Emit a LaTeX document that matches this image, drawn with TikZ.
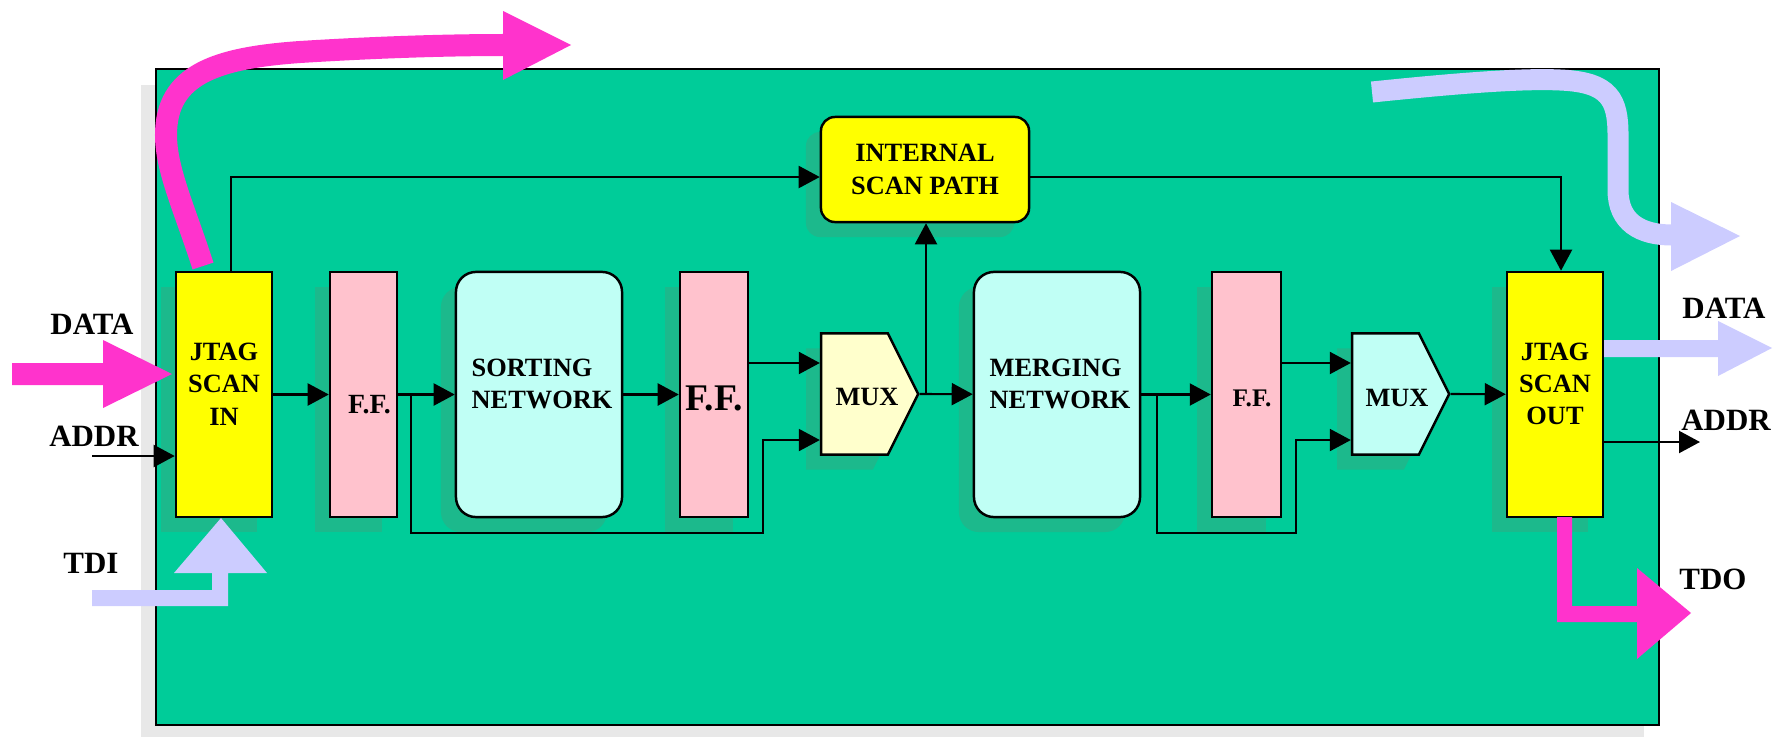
\documentclass[tikz,border=0pt]{standalone}
\usepackage{fontspec}
\setmainfont{Liberation Serif}
\usepackage{xcolor}
\usepackage{tikz}
\definecolor{chipgreen}{RGB}{0,204,153}
\definecolor{shadowgreen}{RGB}{28,185,140}
\definecolor{scanyellow}{RGB}{255,255,0}
\definecolor{ffpink}{RGB}{255,194,205}
\definecolor{netcyan}{RGB}{192,255,245}
\definecolor{muxcream}{RGB}{255,255,204}
\definecolor{tdomagenta}{RGB}{255,51,204}
\definecolor{tdilavender}{RGB}{204,204,255}
\usetikzlibrary{shapes.symbols,arrows.meta,shadows}

\begin{document}
\begin{tikzpicture}[x=0.01cm, y=-0.01cm,
    every node/.style={font=\bfseries\fontsize{7.5}{9.2}\selectfont, align=center},
    conn/.style={-{Triangle[length=0.21cm,width=0.22cm]}, line width=0.6pt},
    blk/.style={draw, line width=0.7pt, inner sep=0pt,
        drop shadow={shadow xshift=-0.15cm, shadow yshift=-0.15cm, opacity=1, fill=shadowgreen}},
    scanbox/.style={blk, rectangle, fill=scanyellow, minimum width=0.96cm, minimum height=2.45cm},
    ffbox/.style={blk, rectangle, fill=ffpink, minimum height=2.45cm},
    netbox/.style={blk, rectangle, rounded corners=0.2cm, fill=netcyan, minimum width=1.66cm, minimum height=2.45cm},
    ispbox/.style={blk, rectangle, rounded corners=0.14cm, fill=scanyellow, minimum width=2.08cm, minimum height=1.05cm},
    muxbox/.style={blk, signal, signal to=east, signal from=nowhere, signal pointer angle=127,
        minimum width=0.97cm, minimum height=1.21cm},
    pinlbl/.style={font=\bfseries\fontsize{8.8}{10}\selectfont}]
    \useasboundingbox (0,0) rectangle (1788,736);

    % Chip outline
    \draw[line width=0.7pt, fill=chipgreen,
        drop shadow={shadow xshift=-0.15cm, shadow yshift=-0.16cm, opacity=1, fill=gray!18}]
        (156,69) rectangle (1659,725);

    % Blocks
    \node[scanbox, label={[yshift=0.105cm]center:JTAG\\SCAN\\IN}] (jtagin) at (224,394.5) {};
    \node[ffbox, minimum width=0.67cm, label={[xshift=0.06cm, yshift=-0.1cm, font=\bfseries\fontsize{7.9}{9}\selectfont]center:F.F.}] (ff1) at (363.5,394.5) {};
    \node[netbox, label={[align=left, xshift=0.03cm, yshift=0.105cm]center:SORTING\\NETWORK}] (sort) at (539,394.5) {};
    \node[ffbox, minimum width=0.68cm, label={[yshift=-0.035cm, font=\bfseries\fontsize{10.7}{12}\selectfont]center:F.F.}] (ff2) at (714,394.5) {};
    \node[muxbox, fill=muxcream, label={[xshift=0.125cm, yshift=-0.03cm]center:MUX}] (mux1) at (854.5,394) {};
    \node[ispbox] (isp) at (925,169.5) {INTERNAL\\SCAN PATH};
    \node[netbox, label={[align=left, xshift=0.03cm, yshift=0.105cm]center:MERGING\\NETWORK}] (merge) at (1057,394.5) {};
    \node[ffbox, minimum width=0.69cm, label={[xshift=0.055cm, yshift=-0.035cm, font=\bfseries\fontsize{7.2}{9}\selectfont]center:F.F.}] (ff3) at (1246.5,394.5) {};
    \node[muxbox, fill=netcyan, label={[xshift=0.115cm, yshift=-0.04cm]center:MUX}] (mux2) at (1385.5,394) {};
    \node[scanbox, label={[yshift=0.105cm]center:JTAG\\SCAN\\OUT}] (jtagout) at (1555,394.5) {};

    % Pin names
    \node[pinlbl] (datain) at (92,324) {DATA};
    \node[pinlbl] (addrin) at (94,436) {ADDR};
    \node[pinlbl] (tdi) at (91,563) {TDI};
    \node[pinlbl] (dataout) at (1724,308) {DATA};
    \node[pinlbl] (addrout) at (1726,420) {ADDR};
    \node[pinlbl] (tdo) at (1713,579) {TDO};

    % Taps
    \coordinate (mux1in) at ([yshift=0.31cm]mux1.west);
    \coordinate (mux1lo) at ([yshift=-0.46cm]mux1.west);
    \coordinate (mux2in) at ([yshift=0.31cm]mux2.west);
    \coordinate (mux2lo) at ([yshift=-0.46cm]mux2.west);
    \coordinate (tap1) at (411,394.5);
    \coordinate (loop1) at (763,533);
    \coordinate (tap2) at (926,394);
    \coordinate (tap3) at (1157,394.5);
    \coordinate (loop2) at (1296,533);
    \coordinate (addrsrc) at (92,456);
    \coordinate (addrdst) at (1700,442);

    % Arrows
    \draw[conn] (jtagin) -- (ff1);
    \draw[conn] (ff1) -- (sort);
    \draw[conn] (sort) -- (ff2);
    \draw[conn] (ff2.east |- mux1in) -- (mux1in);
    \draw[conn] (tap1) |- (loop1) |- (mux1lo);
    \draw[conn] (mux1.east) -- (merge);
    \draw[conn] (tap2) -- (tap2 |- isp.south);
    \draw[conn] ([xshift=0.07cm]jtagin.north) |- ([yshift=-0.075cm]isp.west);
    \draw[conn] ([yshift=-0.075cm]isp.east) -| ([xshift=0.06cm]jtagout.north);
    \draw[conn] (merge) -- (ff3);
    \draw[conn] (ff3.east |- mux2in) -- (mux2in);
    \draw[conn] (tap3) |- (loop2) |- (mux2lo);
    \draw[conn] (mux2.east) -- (jtagout);
    \draw[conn] (addrsrc) -- (addrsrc -| jtagin.west);
    \draw[conn] (jtagout.east |- addrdst) -- (addrdst);

    % Scan chain and data flow
    \fill[tdomagenta] (12,363) -- (103,363) -- (103,340) -- (172,374) -- (103,408) -- (103,385) -- (12,385) -- cycle;
    \fill[tdilavender] (92,590) -- (212,590) -- (212,573) -- (174,573) -- (221,518) -- (267,573) -- (228,573) -- (228,606) -- (92,606) -- cycle;
    \fill[tdomagenta] (1557,517) -- (1572,517) -- (1572,606) -- (1637,606) -- (1637,568) -- (1691,613) -- (1637,659) -- (1637,622) -- (1557,622) -- cycle;
    \fill[tdilavender] (1604,340) -- (1718,340) -- (1718,321) -- (1772,348) -- (1718,376) -- (1718,357) -- (1604,357) -- cycle;
    \draw[tdomagenta, line width=0.22cm] (203,266) .. controls (185,210) and (166,170) .. (166,135)
        .. controls (166,75) and (215,58) .. (300,52) .. controls (380,47) and (450,45) .. (504,45);
    \fill[tdomagenta] (503,11) -- (571,45) -- (503,80) -- cycle;
    \draw[tdilavender, line width=0.21cm] (1372,92) .. controls (1450,84) and (1520,78) .. (1560,80)
        .. controls (1610,82) and (1618,100) .. (1618,135) -- (1618,190)
        .. controls (1618,222) and (1640,235) .. (1672,235);
    \fill[tdilavender] (1671,202) -- (1740,236) -- (1671,271) -- cycle;
\end{tikzpicture}
\end{document}
